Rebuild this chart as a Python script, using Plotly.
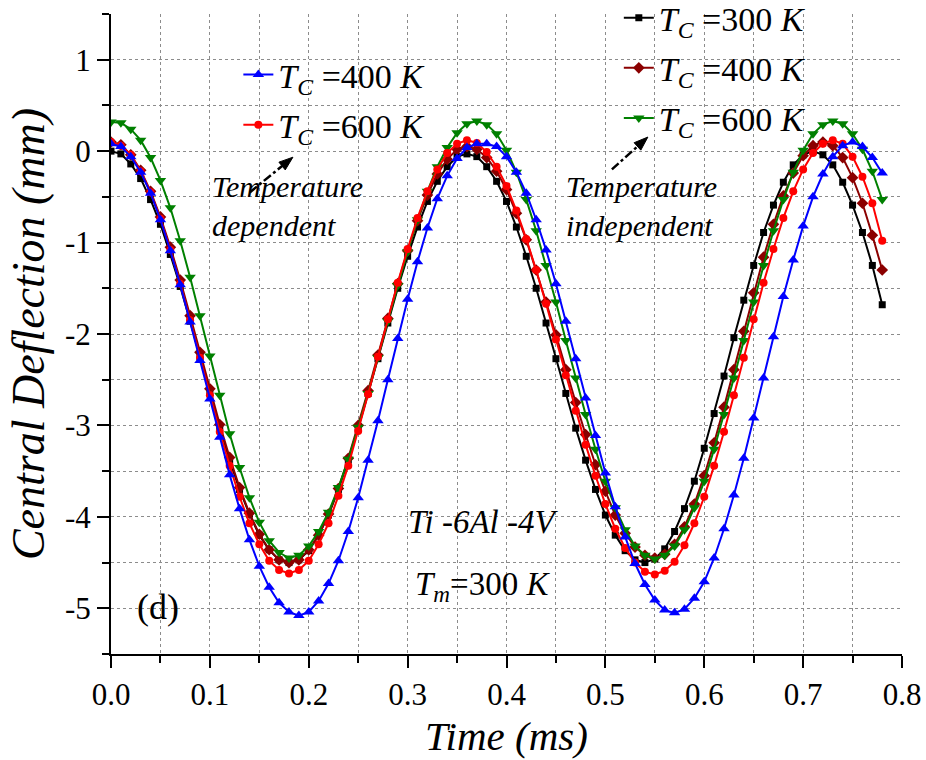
import math
import plotly.graph_objects as go

# ---------------- data ----------------
time_ms = [0.00, 0.01, 0.02, 0.03, 0.04, 0.05, 0.06, 0.07, 0.08, 0.09,
           0.10, 0.11, 0.12, 0.13, 0.14, 0.15, 0.16, 0.17, 0.18, 0.19,
           0.20, 0.21, 0.22, 0.23, 0.24, 0.25, 0.26, 0.27, 0.28, 0.29,
           0.30, 0.31, 0.32, 0.33, 0.34, 0.35, 0.36, 0.37, 0.38, 0.39,
           0.40, 0.41, 0.42, 0.43, 0.44, 0.45, 0.46, 0.47, 0.48, 0.49,
           0.50, 0.51, 0.52, 0.53, 0.54, 0.55, 0.56, 0.57, 0.58, 0.59,
           0.60, 0.61, 0.62, 0.63, 0.64, 0.65, 0.66, 0.67, 0.68, 0.69,
           0.70, 0.71, 0.72, 0.73, 0.74, 0.75, 0.76, 0.77, 0.78]

# Temperature independent
indep_tc300 = [0.00, -0.03, -0.14, -0.30, -0.53, -0.80, -1.13, -1.48, -1.86, -2.25,
               -2.64, -3.02, -3.38, -3.70, -3.97, -4.20, -4.36, -4.47, -4.50, -4.47,
               -4.37, -4.20, -3.98, -3.70, -3.38, -3.03, -2.65, -2.27, -1.88, -1.50,
               -1.15, -0.83, -0.55, -0.33, -0.17, -0.06, -0.03, -0.06, -0.17, -0.33,
               -0.55, -0.83, -1.15, -1.50, -1.88, -2.27, -2.65, -3.03, -3.38, -3.70,
               -3.98, -4.20, -4.37, -4.47, -4.50, -4.46, -4.35, -4.16, -3.91, -3.61,
               -3.25, -2.87, -2.46, -2.04, -1.63, -1.25, -0.89, -0.59, -0.34, -0.15,
               -0.04, 0.00, -0.04, -0.15, -0.34, -0.59, -0.89, -1.25, -1.68]

indep_tc400 = [0.10, 0.07, -0.04, -0.21, -0.44, -0.72, -1.05, -1.41, -1.80, -2.20,
               -2.60, -2.99, -3.35, -3.68, -3.96, -4.19, -4.36, -4.47, -4.50, -4.47,
               -4.36, -4.20, -3.97, -3.69, -3.36, -3.00, -2.62, -2.23, -1.83, -1.45,
               -1.09, -0.76, -0.48, -0.25, -0.09, 0.02, 0.05, 0.02, -0.07, -0.22,
               -0.42, -0.68, -0.97, -1.30, -1.65, -2.01, -2.39, -2.75, -3.10, -3.43,
               -3.72, -3.98, -4.18, -4.33, -4.42, -4.45, -4.41, -4.30, -4.11, -3.86,
               -3.55, -3.19, -2.80, -2.39, -1.97, -1.55, -1.16, -0.80, -0.49, -0.24,
               -0.05, 0.06, 0.10, 0.06, -0.07, -0.29, -0.57, -0.92, -1.30]

indep_tc600 = [0.32, 0.31, 0.24, 0.12, -0.07, -0.32, -0.62, -0.98, -1.38, -1.80,
               -2.24, -2.67, -3.09, -3.46, -3.79, -4.06, -4.26, -4.39, -4.45, -4.42,
               -4.32, -4.16, -3.95, -3.68, -3.37, -3.02, -2.65, -2.26, -1.86, -1.47,
               -1.10, -0.75, -0.44, -0.17, 0.04, 0.20, 0.30, 0.33, 0.29, 0.19,
               0.01, -0.23, -0.53, -0.87, -1.25, -1.65, -2.07, -2.48, -2.88, -3.26,
               -3.61, -3.90, -4.14, -4.32, -4.42, -4.46, -4.42, -4.32, -4.14, -3.90,
               -3.61, -3.26, -2.88, -2.48, -2.07, -1.65, -1.25, -0.87, -0.53, -0.23,
               0.01, 0.19, 0.29, 0.33, 0.30, 0.19, 0.02, -0.22, -0.53]

# Temperature dependent
dep_tc400 = [0.08, 0.05, -0.06, -0.23, -0.46, -0.75, -1.09, -1.46, -1.87, -2.29,
             -2.71, -3.13, -3.54, -3.91, -4.25, -4.54, -4.77, -4.94, -5.04, -5.08,
             -5.04, -4.92, -4.73, -4.48, -4.16, -3.79, -3.38, -2.95, -2.50, -2.05,
             -1.62, -1.21, -0.84, -0.52, -0.27, -0.08, 0.04, 0.08, 0.08, 0.05,
             -0.06, -0.23, -0.46, -0.75, -1.08, -1.45, -1.86, -2.27, -2.70, -3.11,
             -3.52, -3.89, -4.22, -4.51, -4.74, -4.91, -5.02, -5.05, -5.01, -4.89,
             -4.71, -4.45, -4.13, -3.76, -3.36, -2.92, -2.48, -2.03, -1.59, -1.19,
             -0.82, -0.50, -0.25, -0.06, 0.06, 0.10, 0.05, -0.07, -0.24]

dep_tc600 = [0.10, 0.06, -0.04, -0.22, -0.45, -0.74, -1.08, -1.45, -1.85, -2.26,
             -2.67, -3.07, -3.44, -3.78, -4.07, -4.30, -4.48, -4.58, -4.62, -4.58,
             -4.48, -4.30, -4.07, -3.77, -3.44, -3.06, -2.66, -2.25, -1.84, -1.44,
             -1.07, -0.73, -0.44, -0.20, -0.02, 0.08, 0.12, 0.09, -0.01, -0.17,
             -0.38, -0.65, -0.96, -1.30, -1.67, -2.06, -2.45, -2.84, -3.21, -3.55,
             -3.86, -4.13, -4.34, -4.50, -4.60, -4.63, -4.59, -4.49, -4.31, -4.07,
             -3.78, -3.44, -3.07, -2.67, -2.26, -1.84, -1.44, -1.07, -0.73, -0.44,
             -0.20, -0.02, 0.08, 0.12, 0.08, -0.06, -0.28, -0.57, -0.98]

x_ticks = [0.0, 0.1, 0.2, 0.3, 0.4, 0.5, 0.6, 0.7, 0.8]
y_ticks = [1, 0, -1, -2, -3, -4, -5]

SERIF = "Liberation Serif, Times New Roman, serif"

# plot-area geometry (px) used only to shape the arrow heads
X_RANGE = [0, 0.8]
Y_RANGE = [-5.5, 1.5]
MARGIN = dict(l=111, r=24, t=14, b=106, autoexpand=False)
PX_PER_X = (926 - MARGIN["l"] - MARGIN["r"]) / (X_RANGE[1] - X_RANGE[0])
PX_PER_Y = (760 - MARGIN["t"] - MARGIN["b"]) / (Y_RANGE[1] - Y_RANGE[0])


def tc_label(k):
    return "<i>T</i><sub><i>C</i></sub> =%d <i>K</i>" % k


fig = go.Figure()

series = [
    # (name, values, colour, symbol, size, legend, rank)
    (tc_label(300), indep_tc300, "#000000", "square", 7, "legend2", 1),
    (tc_label(400), indep_tc400, "#8B0000", "diamond", 9, "legend2", 2),
    (tc_label(600), indep_tc600, "#008000", "triangle-down", 10, "legend2", 3),
    (tc_label(600), dep_tc600, "#FF0000", "circle", 8, "legend", 2),
    (tc_label(400), dep_tc400, "#0000FF", "triangle-up", 10, "legend", 1),
]
for i, (name, vals, col, sym, sz, leg, rank) in enumerate(series):
    fig.add_trace(go.Scatter(
        x=time_ms, y=vals, mode="lines+markers", name=name,
        line=dict(color=col, width=2),
        marker=dict(symbol=sym, size=sz, color=col, line=dict(width=0)),
        legend=leg, legendrank=rank, legendgroup="g%d" % i,
    ))

axis_common = dict(
    ticks="outside", ticklen=12, tickwidth=2, tickcolor="black",
    showline=True, linewidth=2, linecolor="black", mirror=False,
    showgrid=False, zeroline=False,
    tickfont=dict(family=SERIF, size=31, color="black"),
)

legend_font = dict(family=SERIF, size=34, color="black")

fig.update_layout(
    width=926, height=760,
    margin=MARGIN,
    paper_bgcolor="white", plot_bgcolor="white",
    xaxis=dict(
        range=X_RANGE, tickvals=x_ticks, ticktext=["%.1f" % v for v in x_ticks],
        minor=dict(dtick=0.05, tick0=0, ticks="outside", ticklen=7, tickwidth=2,
                   tickcolor="black", showgrid=True, gridcolor="#8c8c8c",
                   griddash="dot", gridwidth=1.2),
        title=dict(text="<i>Time (ms)</i>", font=dict(family=SERIF, size=41, color="black"),
                   standoff=10),
        **axis_common,
    ),
    yaxis=dict(
        range=Y_RANGE, tickvals=y_ticks, ticktext=[str(v) for v in y_ticks],
        minor=dict(dtick=0.5, tick0=0, ticks="outside", ticklen=7, tickwidth=2,
                   tickcolor="black", showgrid=True, gridcolor="#8c8c8c",
                   griddash="dot", gridwidth=1.2),
        title=dict(text="<i>Central Deflection (mm)</i>",
                   font=dict(family=SERIF, size=46, color="black"), standoff=6),
        **axis_common,
    ),
    legend=dict(x=0.161, y=0.95, xanchor="left", yanchor="top",
                bgcolor="rgba(0,0,0,0)", traceorder="grouped", tracegroupgap=3,
                font=legend_font),
    legend2=dict(x=0.642, y=1.039, xanchor="left", yanchor="top",
                 bgcolor="rgba(0,0,0,0)", traceorder="grouped", tracegroupgap=3,
                 font=legend_font),
    showlegend=True,
)

ann_font = dict(family=SERIF, size=30, color="black")
fig.add_annotation(x=0.100, y=-0.60, xref="x", yref="y", xanchor="left",
                   text="<i>Temperature<br>dependent</i>", showarrow=False,
                   align="left", font=ann_font)
fig.add_annotation(x=0.458, y=-0.60, xref="x", yref="y", xanchor="left",
                   text="<i>Temperature<br>independent</i>", showarrow=False,
                   align="left", font=ann_font)
fig.add_annotation(x=0.377, y=-4.06, xref="x", yref="y",
                   text="<i>Ti -6Al -4V</i>", showarrow=False,
                   font=dict(family=SERIF, size=33, color="black"))
fig.add_annotation(x=0.376, y=-4.76, xref="x", yref="y",
                   text="<i>T<sub>m</sub></i>=300 <i>K</i>", showarrow=False,
                   font=dict(family=SERIF, size=33, color="black"))
fig.add_annotation(x=0.0475, y=-4.99, xref="x", yref="y",
                   text="(d)", showarrow=False,
                   font=dict(family=SERIF, size=36, color="black"))

# dash-dot pointer arrows (line + filled head)
arrows = [(0.1405, -0.45, 0.184, -0.066), (0.5066, -0.20, 0.543, 0.154)]
for (x0, y0, x1, y1) in arrows:
    dxp = (x1 - x0) * PX_PER_X
    dyp = (y1 - y0) * PX_PER_Y
    L = math.hypot(dxp, dyp)
    ux, uy = dxp / L, dyp / L
    head_len, head_w = 14.0, 5.0
    bx, by = -ux * head_len, -uy * head_len          # base centre offset (px)
    px_, py_ = -uy * head_w, ux * head_w             # perpendicular (px)
    pts = [(0.0, 0.0), (bx + px_, by + py_), (bx - px_, by - py_)]
    path = "M " + " L ".join("%.5f,%.5f" % (x1 + a / PX_PER_X, y1 + b / PX_PER_Y)
                             for a, b in pts) + " Z"
    fig.add_shape(type="line", xref="x", yref="y", x0=x0, y0=y0,
                  x1=x1 + bx / PX_PER_X, y1=y1 + by / PX_PER_Y,
                  line=dict(color="black", width=2.5, dash="dashdot"))
    fig.add_shape(type="path", xref="x", yref="y", path=path,
                  fillcolor="black", line=dict(color="black", width=1))

fig.write_html("out.html")
